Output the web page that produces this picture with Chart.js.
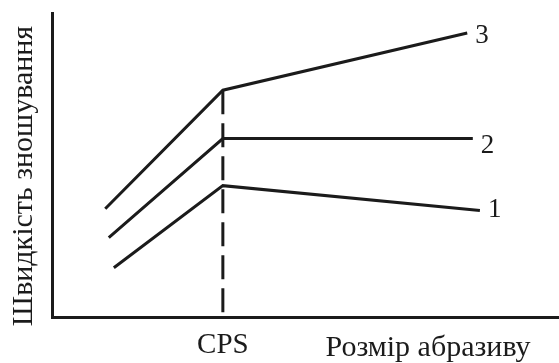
<!DOCTYPE html>
<html>
<head>
<meta charset="utf-8">
<script src="https://cdn.jsdelivr.net/npm/chart.js@4/dist/chart.umd.min.js"></script>
<style>
  html, body { margin: 0; padding: 0; background: #fff; }
  #wrap { width: 559px; height: 363px; }
</style>
</head>
<body>
<div id="wrap"><canvas id="c"></canvas></div>
<script>
// Wear rate vs. abrasive particle size (arbitrary units)
const curveNames = ['1', '2', '3'];
const xStart = [1.22, 1.12, 1.05];
const xCps = 3.37;
const xEnd = [8.44, 8.30, 8.19];
const yStart = [1.62, 2.61, 3.56];
const yCps = [4.32, 5.87, 7.46];
const yEnd = [3.50, 5.87, 9.34];
const xTitle = 'Розмір абразиву';
const yTitle = 'Швидкість зношування';
const cpsLabel = 'CPS';

const ink = '#1b1b1b';
const serif = '"Liberation Serif", "DejaVu Serif", serif';
// baseline shift of each curve number below its line end
const numberDrop = [6, 14, 10];

const curveSets = curveNames.map((name, i) => ({
  label: name,
  data: [
    { x: xStart[i], y: yStart[i] },
    { x: xCps, y: yCps[i] },
    { x: xEnd[i], y: yEnd[i] }
  ],
  borderColor: ink,
  borderWidth: 3,
  pointRadius: 0,
  tension: 0,
  fill: false
}));

// dashed marker at the critical particle size, drawn from the top curve down
const cpsLine = {
  label: cpsLabel,
  data: [{ x: xCps, y: Math.max(...yCps) }, { x: xCps, y: 0 }],
  borderColor: ink,
  borderWidth: 3,
  borderDash: [24, 9],
  pointRadius: 0,
  fill: false
};

// Draws curve numbers, the CPS mark and both axis titles
const textPlugin = {
  id: 'texts',
  afterDatasetsDraw(chart) {
    const { ctx, chartArea, scales } = chart;
    ctx.save();
    ctx.fillStyle = ink;
    ctx.textBaseline = 'alphabetic';
    ctx.font = '27px ' + serif;
    ctx.textAlign = 'left';
    curveNames.forEach((name, i) => {
      const px = scales.x.getPixelForValue(xEnd[i]);
      const py = scales.y.getPixelForValue(yEnd[i]);
      ctx.fillText(name, px + 8, py + numberDrop[i]);
    });
    ctx.textAlign = 'center';
    ctx.font = '29px ' + serif;
    ctx.fillText(cpsLabel, scales.x.getPixelForValue(xCps), chartArea.bottom + 36);
    ctx.font = '30px ' + serif;
    ctx.fillText(xTitle, 428, chartArea.bottom + 39);
    ctx.translate(32, 176);
    ctx.rotate(-Math.PI / 2);
    ctx.fillText(yTitle, 0, 0);
    ctx.restore();
  }
};

new Chart(document.getElementById('c'), {
  type: 'line',
  data: { datasets: [...curveSets, cpsLine] },
  options: {
    responsive: true,
    maintainAspectRatio: false,
    animation: false,
    layout: { padding: { left: 44, top: 13, right: 0, bottom: 38 } },
    plugins: { legend: { display: false }, tooltip: { enabled: false } },
    scales: {
      x: {
        type: 'linear', min: 0, max: 10,
        grid: { display: false },
        ticks: { display: false },
        border: { display: true, color: ink, width: 3 }
      },
      y: {
        type: 'linear', min: 0, max: 10,
        grid: { display: false },
        ticks: { display: false },
        border: { display: true, color: ink, width: 3 }
      }
    }
  },
  plugins: [textPlugin]
});
</script>
</body>
</html>
